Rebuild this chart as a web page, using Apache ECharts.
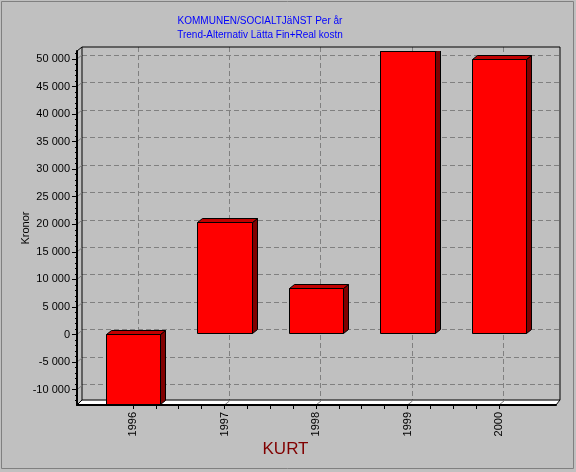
<!DOCTYPE html>
<html>
<head>
<meta charset="utf-8">
<script src="https://cdn.jsdelivr.net/npm/echarts@6/dist/echarts.min.js"></script>
<style>
  html, body { margin: 0; padding: 0; background: #c0c0c0; }
  #chart { width: 576px; height: 472px; }
</style>
</head>
<body>
<div id="chart"></div>
<script>
// ---- data ----
const years = [1996, 1997, 1998, 1999, 2000];
const kronor = [-12800, 20400, 8400, 51450, 50000];
const yTickValues = [-10000, -5000, 0, 5000, 10000, 15000, 20000, 25000, 30000, 35000, 40000, 45000, 50000];
const titleLines = ['KOMMUNEN/SOCIALTJäNST Per år', 'Trend-Alternativ Lätta Fin+Real kostn'];
const yAxisName = 'Kronor';
const xAxisName = 'KURT';

// ---- axis ranges ----
const Y_MIN = -12800, Y_MAX = 51450;
const X_MIN = 1995.388, X_MAX = 2000.623;

// ---- layout of the 3D box (front plane and back wall) ----
const DX = 5, DY = 4;
const FRONT = { left: 77, top: 51, width: 479, height: 354 };
const BACK = { left: FRONT.left + DX, top: FRONT.top - DY, width: FRONT.width - 1, height: FRONT.height - 1 };
const FONT = '"Liberation Sans", Arial, sans-serif';

// quarter-year ticks along the category axis, minor ticks every 1000 on the value axis
const quarterTicks = [];
for (let i = 0; i <= (years[years.length - 1] - years[0]) * 4; i++) quarterTicks.push(years[0] + i / 4);
const minorTicks = [];
for (let v = -12000; v <= 51000; v += 1000) minorTicks.push(v);

function fmt(v) {
  const s = String(Math.abs(v)).replace(/\B(?=(\d{3})+(?!\d))/g, ' ');
  return (v < 0 ? '-' : '') + s;
}

function renderBar(params, api) {
  const x = api.value(0), v = api.value(1);
  const cs = params.coordSys;
  const half = api.size([0.6, 0])[0] / 2;
  const base = api.coord([x, 0]);
  const tip = api.coord([x, v]);
  const clampY = y => Math.max(cs.y, Math.min(cs.y + cs.height, y));
  const yA = clampY(base[1]), yB = clampY(tip[1]);
  const top = Math.round(Math.min(yA, yB)) + 0.5;
  const bot = Math.round(Math.max(yA, yB)) - 0.5;
  const x0 = Math.round(base[0] - half) + 0.5;
  const x1 = Math.round(base[0] + half) + 0.5;
  const edge = { stroke: '#000', lineWidth: 1 };
  return {
    type: 'group',
    children: [
      { type: 'polygon', shape: { points: [[x1, top], [x1 + DX, top - DY], [x1 + DX, bot - DY], [x1, bot]] },
        style: Object.assign({ fill: '#800000' }, edge) },
      { type: 'polygon', shape: { points: [[x0, top], [x0 + DX, top - DY], [x1 + DX, top - DY], [x1, top]] },
        style: Object.assign({ fill: '#c00000' }, edge) },
      { type: 'rect', shape: { x: x0, y: top, width: x1 - x0, height: bot - top },
        style: Object.assign({ fill: '#ff0000' }, edge) }
    ]
  };
}

const chart = echarts.init(document.getElementById('chart'), null, { renderer: 'canvas' });
const dashed = { color: '#808080', width: 1, type: [5, 3] };

const option = {
  backgroundColor: '#c0c0c0',
  animation: false,
  grid: [
    { left: FRONT.left, top: FRONT.top, width: FRONT.width, height: FRONT.height, show: false },
    { left: BACK.left, top: BACK.top, width: BACK.width, height: BACK.height, show: true,
      borderColor: '#000', borderWidth: 1, backgroundColor: 'transparent', z: 1 }
  ],
  xAxis: [
    { type: 'value', gridIndex: 0, min: X_MIN, max: X_MAX, z: 3,
      axisLine: { show: true, onZero: false, lineStyle: { color: '#000', width: 2 } },
      axisTick: { show: true, customValues: quarterTicks, length: 4, lineStyle: { color: '#000' } },
      axisLabel: { customValues: years, rotate: 90, margin: 7, fontSize: 11, color: '#000', fontFamily: FONT,
        formatter: v => String(Math.round(v)) },
      splitLine: { show: false } },
    { type: 'value', gridIndex: 1, min: X_MIN, max: X_MAX,
      axisLine: { show: false },
      axisTick: { show: false, customValues: years },
      axisLabel: { show: false },
      splitLine: { show: true, lineStyle: dashed } }
  ],
  yAxis: [
    { type: 'value', gridIndex: 0, min: Y_MIN, max: Y_MAX, position: 'left', z: 3,
      axisLine: { show: true, onZero: false, lineStyle: { color: '#000', width: 2 } },
      axisTick: { show: true, customValues: yTickValues, length: 5, lineStyle: { color: '#000' } },
      axisLabel: { customValues: yTickValues, margin: 7, fontSize: 11, color: '#000', fontFamily: FONT, formatter: fmt },
      splitLine: { show: false },
      name: yAxisName, nameLocation: 'middle', nameRotate: 90, nameGap: 46, nameMoveOverlap: false,
      nameTextStyle: { fontSize: 11, color: '#000', fontFamily: FONT } },
    { type: 'value', gridIndex: 0, min: Y_MIN, max: Y_MAX, position: 'left', z: 3,
      axisLine: { show: false },
      axisTick: { show: true, customValues: minorTicks, length: 2, lineStyle: { color: '#000' } },
      axisLabel: { show: false },
      splitLine: { show: false } },
    { type: 'value', gridIndex: 1, min: Y_MIN, max: Y_MAX,
      axisLine: { show: false },
      axisTick: { show: false, customValues: yTickValues },
      axisLabel: { show: false },
      splitLine: { show: true, lineStyle: dashed } }
  ],
  series: [
    { type: 'custom', xAxisIndex: 0, yAxisIndex: 0, z: 2, clip: true,
      renderItem: renderBar,
      data: years.map((y, i) => [y, kronor[i]]) }
  ]
};
chart.setOption(option);

// 3D box edges, floor and title texts, positioned from the axes' own scales
const fBottom = FRONT.top + FRONT.height;
const bBottom = BACK.top + BACK.height;
const fRight = FRONT.left + FRONT.width;
const bRight = BACK.left + BACK.width;
const gfx = [
  { type: 'rect', silent: true, z: -10, shape: { x: 1.5, y: 1.5, width: 572, height: 467 },
    style: { fill: null, stroke: '#808080', lineWidth: 1 } },
  { type: 'polygon', silent: true, z: 0,
    shape: { points: [[FRONT.left, fBottom], [BACK.left, bBottom + 0.5], [bRight, bBottom + 0.5], [fRight, fBottom]] },
    style: { fill: '#ffffff', stroke: null } },
  { type: 'line', silent: true, z: 4, shape: { x1: FRONT.left, y1: fBottom, x2: BACK.left, y2: bBottom }, style: { stroke: '#000', lineWidth: 1 } },
  { type: 'line', silent: true, z: 4, shape: { x1: fRight, y1: fBottom, x2: bRight, y2: bBottom }, style: { stroke: '#000', lineWidth: 1 } },
  { type: 'line', silent: true, z: 4, shape: { x1: FRONT.left, y1: FRONT.top, x2: BACK.left, y2: BACK.top }, style: { stroke: '#000', lineWidth: 1 } },
  { type: 'text', silent: true, z: 5, x: 260, y: 21,
    style: { text: titleLines[0], fill: '#0000ff', font: '10px ' + FONT, align: 'center', verticalAlign: 'middle' } },
  { type: 'text', silent: true, z: 5, x: 260, y: 35,
    style: { text: titleLines[1], fill: '#0000ff', font: '10px ' + FONT, align: 'center', verticalAlign: 'middle' } },
  { type: 'text', silent: true, z: 5, x: 285.5, y: 449,
    style: { text: xAxisName, fill: '#800000', font: '17px ' + FONT, align: 'center', verticalAlign: 'middle' } }
];
// short receding gridline connectors on the left wall and the floor
yTickValues.forEach(v => {
  const p = chart.convertToPixel({ gridIndex: 0 }, [X_MIN, v]);
  gfx.push({ type: 'line', silent: true, z: 1, shape: { x1: p[0], y1: p[1], x2: p[0] + DX, y2: p[1] - DY },
    style: { stroke: '#808080', lineWidth: 1 } });
});
years.forEach(y => {
  const p = chart.convertToPixel({ gridIndex: 0 }, [y, Y_MIN]);
  gfx.push({ type: 'line', silent: true, z: 1, shape: { x1: p[0], y1: p[1], x2: p[0] + DX, y2: p[1] - DY },
    style: { stroke: '#808080', lineWidth: 1 } });
});
chart.setOption({ graphic: gfx });
</script>
</body>
</html>
